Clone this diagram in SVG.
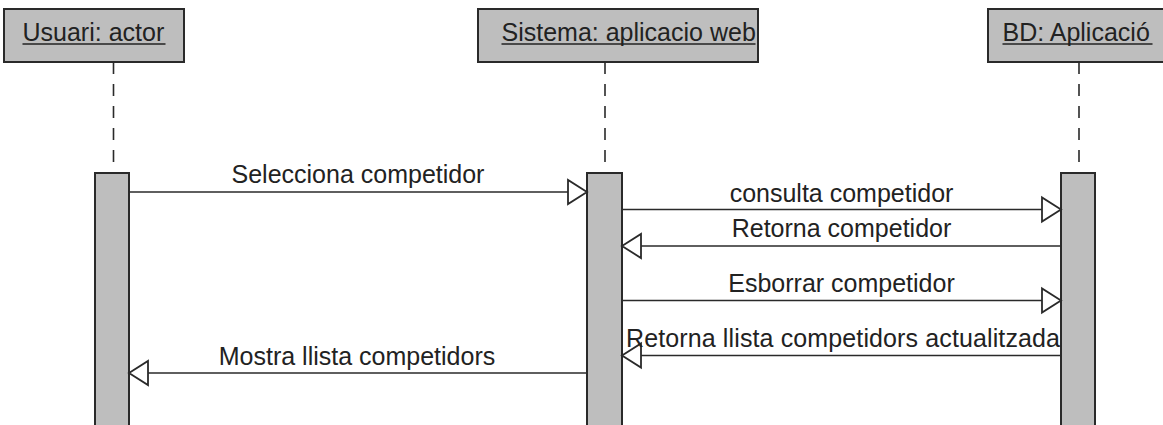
<svg xmlns="http://www.w3.org/2000/svg" width="1163" height="425" viewBox="0 0 1163 425">
<style>
.box{fill:#bebebe;stroke:#2a2a2a;stroke-width:2}
.act{fill:#bebebe;stroke:#2a2a2a;stroke-width:2}
.life{stroke:#2a2a2a;stroke-width:1.6;stroke-dasharray:12 10;fill:none}
.msg{stroke:#2a2a2a;stroke-width:1.6;fill:none}
.head{fill:#ffffff;stroke:#2a2a2a;stroke-width:1.8;stroke-linejoin:miter}
text{font-family:"Liberation Sans",Arial,sans-serif;font-size:25px;fill:#222222}
.t{text-anchor:middle}
.ul{stroke:#222222;stroke-width:1.6}
</style>
<rect width="1163" height="425" fill="#ffffff"/>
<g id="usuari">
<rect class="box" x="4" y="9" width="180" height="53"/>
<text x="22.5" y="41">Usuari: actor</text>
<line class="ul" x1="22.5" y1="44" x2="165.5" y2="44"/>
<line class="life" x1="113.5" y1="62" x2="113.5" y2="173"/>
<rect class="act" x="95" y="173" width="34" height="260"/>
</g>
<g id="sistema">
<rect class="box" x="478" y="9" width="280" height="53"/>
<text x="501.5" y="41">Sistema: aplicacio web</text>
<line class="ul" x1="501.5" y1="44" x2="755.5" y2="44"/>
<line class="life" x1="605" y1="62" x2="605" y2="173"/>
<rect class="act" x="587" y="173" width="35" height="260"/>
</g>
<g id="bd">
<rect class="box" x="988" y="9" width="190" height="53"/>
<text x="1002.5" y="41">BD: Aplicació</text>
<line class="ul" x1="1002.5" y1="44" x2="1152.5" y2="44"/>
<line class="life" x1="1079" y1="62" x2="1079" y2="173"/>
<rect class="act" x="1061" y="173" width="34" height="260"/>
</g>
<g id="connectors">
<line class="msg" x1="129" y1="192" x2="568" y2="192"/>
<polygon class="head" points="587,192 568,180 568,204"/>
<text class="t" x="358" y="183">Selecciona competidor</text>

<line class="msg" x1="622" y1="209.5" x2="1042" y2="209.5"/>
<polygon class="head" points="1061,209.5 1042,197.5 1042,221.5"/>
<text class="t" x="841.5" y="202">consulta competidor</text>

<line class="msg" x1="1061" y1="246" x2="641" y2="246"/>
<polygon class="head" points="622,246 641,234 641,258"/>
<text class="t" x="841.5" y="237">Retorna competidor</text>

<line class="msg" x1="622" y1="300.5" x2="1042" y2="300.5"/>
<polygon class="head" points="1061,300.5 1042,288.5 1042,312.5"/>
<text class="t" x="841.5" y="292">Esborrar competidor</text>

<line class="msg" x1="1061" y1="355.5" x2="641" y2="355.5"/>
<polygon class="head" points="622,355.5 641,343.5 641,367.5"/>
<text x="626" y="347" textLength="434" lengthAdjust="spacing">Retorna llista competidors actualitzada</text>

<line class="msg" x1="587" y1="373" x2="148" y2="373"/>
<polygon class="head" points="129,373 148,361 148,385"/>
<text class="t" x="357" y="365">Mostra llista competidors</text>
</g>
</svg>
